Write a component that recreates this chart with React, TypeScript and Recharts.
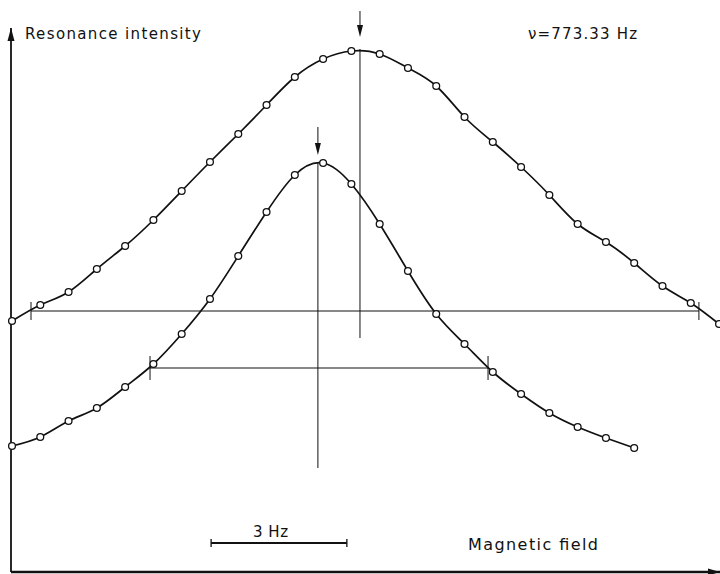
import React from "react";
import { ComposedChart, Line, XAxis, YAxis, ReferenceLine, ReferenceDot } from "recharts";

// field offset of each measured point, in Hz (3 Hz = scale bar)
const fieldHz = [0, 0.625, 1.25, 1.875, 2.5, 3.125, 3.75, 4.375, 5, 5.625, 6.25, 6.875, 7.5, 8.125, 8.75, 9.375, 10, 10.625, 11.25, 11.875, 12.5, 13.125, 13.75, 14.375, 15, 15.625];

// resonance intensity, arbitrary units
const broadIntensity = [50.2, 53.4, 56.0, 60.6, 65.2, 70.4, 76.2, 82.0, 87.6, 93.4, 99.0, 102.6, 104.2, 103.6, 100.8, 97.2, 91.0, 86.0, 81.0, 75.4, 69.6, 66.0, 61.8, 57.2, 53.8, 49.6];
const narrowIntensity = [25.2, 27.0, 30.2, 32.8, 37.0, 41.6, 47.6, 54.6, 63.2, 72.0, 79.4, 81.8, 77.6, 69.6, 60.2, 51.6, 45.6, 40.0, 35.6, 31.8, 29.0, 26.8, 24.8];

// line centres and widths
const broadCentre = 7.69;
const narrowCentre = 6.76;
const broadWidth = [0.42, 15.18];
const broadWidthLevel = 52.2;
const narrowWidth = [3.05, 10.52];
const narrowWidthLevel = 40.8;
const scaleBarHz = [4.4, 7.4];
const scaleBarLevel = 5.8;

const xDomain: [number, number] = [-0.0221, 15.646];
const yDomain: [number, number] = [0, 108.8];

const broadData = broadIntensity.map((v, i) => ({ f: fieldHz[i], v }));
const narrowData = narrowIntensity.map((v, i) => ({ f: fieldHz[i], v }));

const INK = "#111";
const font = "'DejaVu Sans', sans-serif";

const dotStyle = { r: 3.4, fill: "#fff", stroke: INK, strokeWidth: 1.3 };

const downArrow = (p: any) => (
    <polygon points={`${p.cx - 3},${p.cy - 12} ${p.cx + 3},${p.cy - 12} ${p.cx},${p.cy}`} fill={INK} />
);
const upArrow = (p: any) => (
    <polygon points={`${p.cx - 3.5},${p.cy + 13} ${p.cx + 3.5},${p.cy + 13} ${p.cx},${p.cy}`} fill={INK} />
);
const rightArrow = (p: any) => (
    <polygon points={`${p.cx - 12},${p.cy - 3.5} ${p.cx - 12},${p.cy + 3.5} ${p.cx},${p.cy}`} fill={INK} />
);

function seg(key: string, x1: number, y1: number, x2: number, y2: number, w = 1) {
    return (
        <ReferenceLine
            key={key}
            segment={[{ x: x1, y: y1 }, { x: x2, y: y2 }]}
            stroke={INK}
            strokeWidth={w}
            ifOverflow="visible"
        />
    );
}

export default function App() {
    return (
        <div style={{ position: "fixed", left: 0, top: 0, width: 720, height: 574, background: "#fff" }}>
            <ComposedChart width={720} height={574} margin={{ top: 28, right: 0, left: 10, bottom: 1 }}>
                <XAxis type="number" dataKey="f" domain={xDomain} height={1} tick={false} tickLine={false}
                    axisLine={{ stroke: INK, strokeWidth: 2.6 }} />
                <YAxis type="number" dataKey="v" domain={yDomain} width={1} tick={false} tickLine={false}
                    axisLine={{ stroke: INK, strokeWidth: 1.8 }} />

                {/* half-width markers */}
                {seg("bw", broadWidth[0], broadWidthLevel, broadWidth[1], broadWidthLevel)}
                {seg("bw1", broadWidth[0], broadWidthLevel + 1.8, broadWidth[0], broadWidthLevel - 1.8)}
                {seg("bw2", broadWidth[1], broadWidthLevel + 1.8, broadWidth[1], broadWidthLevel - 1.8)}
                {seg("nw", narrowWidth[0], narrowWidthLevel, narrowWidth[1], narrowWidthLevel)}
                {seg("nw1", narrowWidth[0], narrowWidthLevel + 2.4, narrowWidth[0], narrowWidthLevel - 2.4)}
                {seg("nw2", narrowWidth[1], narrowWidthLevel + 2.4, narrowWidth[1], narrowWidthLevel - 2.4)}

                {/* centre lines and arrows */}
                {seg("bc", broadCentre, 104.6, broadCentre, 46.8)}
                {seg("bca", broadCentre, 112.2, broadCentre, 108)}
                {seg("nc", narrowCentre, 81.8, narrowCentre, 20.8)}
                {seg("nca", narrowCentre, 89, narrowCentre, 85)}

                {/* 3 Hz scale bar */}
                {seg("sb", scaleBarHz[0], scaleBarLevel, scaleBarHz[1], scaleBarLevel, 2)}
                {seg("sb1", scaleBarHz[0], scaleBarLevel + 0.8, scaleBarHz[0], scaleBarLevel - 0.8, 1.3)}
                {seg("sb2", scaleBarHz[1], scaleBarLevel + 0.8, scaleBarHz[1], scaleBarLevel - 0.8, 1.3)}

                <ReferenceDot x={broadCentre} y={107} r={3} ifOverflow="visible" shape={downArrow} />
                <ReferenceDot x={narrowCentre} y={83.4} r={3} ifOverflow="visible" shape={downArrow} />
                <ReferenceDot x={xDomain[0]} y={yDomain[1]} r={3} ifOverflow="visible" shape={upArrow} />
                <ReferenceDot x={xDomain[1]} y={yDomain[0]} r={3} ifOverflow="visible" shape={rightArrow} />

                <Line data={broadData} dataKey="v" type="natural" stroke={INK} strokeWidth={1.7}
                    dot={dotStyle} activeDot={false} isAnimationActive={false} />
                <Line data={narrowData} dataKey="v" type="natural" stroke={INK} strokeWidth={1.7}
                    dot={dotStyle} activeDot={false} isAnimationActive={false} />
            </ComposedChart>
            <svg width={720} height={574} style={{ position: "absolute", left: 0, top: 0, pointerEvents: "none" }}>
                <g fill={INK} fontFamily={font}>
                    <text x={25} y={39} fontSize={15} textLength={176} lengthAdjust="spacing">Resonance intensity</text>
                    <text x={528} y={39} fontSize={15} textLength={109} lengthAdjust="spacing">ν=773.33 Hz</text>
                    <text x={253} y={537} fontSize={15} textLength={35} lengthAdjust="spacing">3 Hz</text>
                    <text x={468} y={550} fontSize={16} textLength={130} lengthAdjust="spacing">Magnetic field</text>
                </g>
            </svg>
        </div>
    );
}
